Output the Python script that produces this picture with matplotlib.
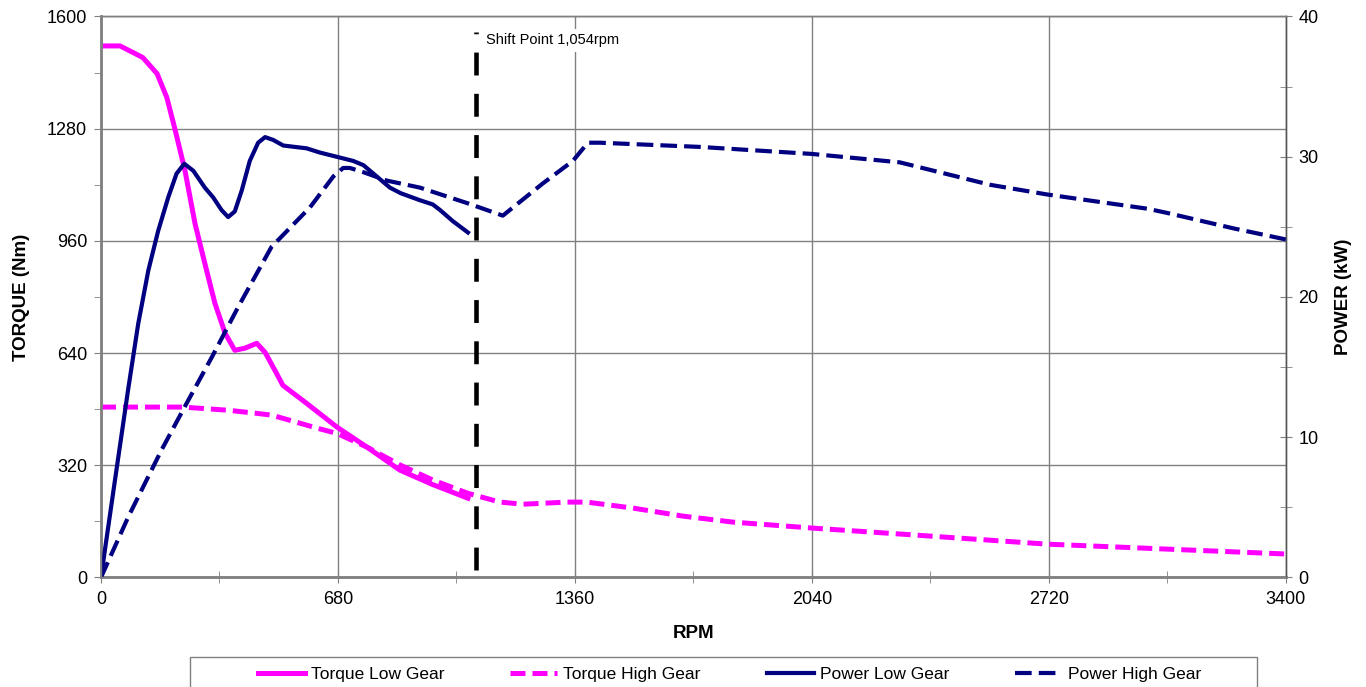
import matplotlib
matplotlib.use('Agg')
import matplotlib.pyplot as plt
from matplotlib.patches import Rectangle
import numpy as np

plt.rcParams['font.family'] = ['Liberation Sans', 'DejaVu Sans']

# torque low gear (rpm, Nm)
tl_rpm = [0, 55, 120, 161, 189, 212, 241, 270, 298, 327, 356, 384, 413, 447, 471, 499, 522, 591, 677, 763, 858, 952, 1053]
tl_nm = [1516, 1516, 1483, 1437, 1369, 1280, 1161, 1009, 896, 782, 697, 648, 654, 668, 642, 591, 548, 496, 429, 372, 306, 265, 226]

# torque high gear (rpm, Nm)
th_rpm = [0, 235, 365, 448, 490, 522, 620, 677, 763, 858, 952, 1053, 1145, 1211, 1337, 1394, 1526, 1670, 1813, 2040, 2292, 2717, 3058, 3400]
th_nm = [486, 486, 477, 468, 463, 454, 426, 411, 372, 321, 278, 240, 215, 209, 215, 215, 198, 175, 158, 141, 124, 95, 81, 67]

# power low gear (rpm, kW)
pl_rpm = [0, 40, 78, 107, 136, 164, 193, 217, 239, 265, 298, 322, 346, 365, 384, 404, 427, 451, 471, 494, 523, 590, 628, 676, 724, 753, 791, 829, 860, 915, 952, 973, 1010, 1053]
pl_kw = [0, 6.9, 13.4, 18.1, 21.9, 24.7, 27.1, 28.8, 29.5, 29.0, 27.8, 27.1, 26.2, 25.7, 26.1, 27.6, 29.7, 31.0, 31.4, 31.2, 30.8, 30.6, 30.3, 30.0, 29.7, 29.4, 28.6, 27.8, 27.4, 26.9, 26.6, 26.2, 25.4, 24.6]

# power high gear (rpm, kW)
ph_rpm = [0, 78, 174, 241, 318, 394, 490, 514, 600, 667, 695, 714, 753, 820, 915, 1050, 1153, 1173, 1268, 1354, 1397, 1432, 1719, 2040, 2292, 2551, 2717, 3001, 3058, 3248, 3400]
ph_kw = [0, 4.3, 9.1, 12.2, 15.7, 19.3, 23.6, 24.2, 26.4, 28.6, 29.2, 29.2, 28.9, 28.3, 27.8, 26.7, 25.8, 26.2, 28.1, 29.7, 31.0, 31.0, 30.7, 30.2, 29.6, 28.0, 27.3, 26.3, 26.0, 24.9, 24.1]

shift_rpm = 1075
shift_text = 'Shift Point 1,054rpm'

magenta = '#FF00FF'
navy = '#000080'
grey = '#808080'

fig = plt.figure(figsize=(13.66, 6.87), dpi=100)
ax = fig.add_axes([0.0739, 0.1594, 0.8675, 0.8166])
ax2 = ax.twinx()

ax.set_xlim(0, 3400)
ax.set_ylim(0, 1600)
ax2.set_ylim(0, 40)
ax.set_xticks(np.arange(0, 3401, 680))
ax.set_xticks(np.arange(0, 3401, 340), minor=True)
ax.set_yticks(np.arange(0, 1601, 320))
ax.set_yticks(np.arange(0, 1601, 160), minor=True)
ax2.set_yticks(np.arange(0, 41, 10))
ax2.set_yticks(np.arange(0, 41, 5), minor=True)

ax.grid(True, which='major', color=grey, lw=1)
ax.set_axisbelow(True)

for a in (ax, ax2):
    for s in a.spines.values():
        s.set_color(grey)
        s.set_linewidth(1)
ax.spines['left'].set_linewidth(2)
ax.spines['bottom'].set_linewidth(2)
ax2.spines['right'].set_color('#555555')

ax.tick_params(axis='x', which='both', direction='inout', length=8, color=grey, labelsize=13, pad=6)
ax.tick_params(axis='y', which='both', direction='out', length=5, color=grey, labelsize=13, pad=5)
ax2.tick_params(axis='y', which='both', direction='inout', length=8, color=grey, labelsize=13, pad=5)

ax.plot(th_rpm, th_nm, color=magenta, lw=3.6, dashes=(3, 1.4), label='Torque High Gear')
ax.plot(tl_rpm, tl_nm, color=magenta, lw=3.6, label='Torque Low Gear')
ax2.plot(pl_rpm, pl_kw, color=navy, lw=3, label='Power Low Gear')
ax2.plot(ph_rpm, ph_kw, color=navy, lw=3, dashes=(4, 1.7), label='Power High Gear')

ax2.axvline(shift_rpm, ymin=0.013, ymax=0.972, color='black', lw=3.3, dashes=(5, 4))
ax2.text(shift_rpm + 30, 38.3, shift_text, fontsize=10.5, va='center', ha='left',
         bbox=dict(facecolor='white', edgecolor='none', pad=3))

ax.set_xlabel('RPM', fontsize=13.5, fontweight='bold', labelpad=12)
ax.set_ylabel('TORQUE (Nm)', fontsize=13.5, fontweight='bold', labelpad=12)
ax2.set_ylabel('POWER (kW)', fontsize=13.5, fontweight='bold', labelpad=12)

h1, l1 = ax.get_legend_handles_labels()
h2, l2 = ax2.get_legend_handles_labels()
hd = dict(zip(l1 + l2, h1 + h2))
order = ['Torque Low Gear', 'Torque High Gear', 'Power Low Gear', 'Power High Gear']
leg = fig.legend([hd[k] for k in order], order, loc='center left',
                 bbox_to_anchor=(258 / 1366, 1 - 674 / 687), ncol=4, fontsize=12.5,
                 frameon=False, handlelength=2.7, handletextpad=0.35,
                 columnspacing=3.8, borderpad=0, borderaxespad=0)

# legend box (runs off the bottom edge like the original)
fig.add_artist(Rectangle((190 / 1366, -0.02), (1257 - 190) / 1366, 0.02 + (687 - 657) / 687,
                         transform=fig.transFigure, fill=False, edgecolor=grey, lw=1))

fig.savefig('out.png', dpi=100)
